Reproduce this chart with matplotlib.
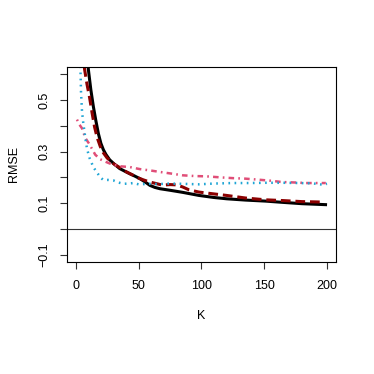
import matplotlib
matplotlib.use("Agg")
import matplotlib.pyplot as plt

plt.rcParams['font.family'] = ['Liberation Sans', 'DejaVu Sans']
plt.rcParams['lines.scale_dashes'] = False

# data
k_black = [8, 9, 10, 12, 14, 16, 18, 20, 22, 24, 27, 31, 35, 39, 43, 47, 51,
           55, 59, 63, 67, 75, 85, 98, 110, 120, 135, 151, 165, 180, 190, 200]
rmse_black = [0.82, 0.71, 0.62, 0.54, 0.475, 0.42, 0.37, 0.332, 0.307,
              0.289, 0.268, 0.25, 0.234, 0.224, 0.214, 0.205, 0.195, 0.183,
              0.169, 0.161, 0.156, 0.15, 0.142, 0.130, 0.122, 0.117, 0.112,
              0.108, 0.103, 0.098, 0.096, 0.094]

k_red = [5, 6, 7, 9, 11, 13, 15, 17, 19.5, 22, 25, 30, 35, 40, 45, 48, 54,
         59, 64, 69, 75, 80, 85, 90, 98, 108, 120, 135, 151, 165, 180, 190,
         198]
rmse_red = [0.74, 0.68, 0.62, 0.56, 0.51, 0.45, 0.395, 0.355, 0.32, 0.295,
            0.275, 0.253, 0.238, 0.222, 0.21, 0.201, 0.19, 0.182, 0.176,
            0.17, 0.172, 0.171, 0.163, 0.152, 0.143, 0.137, 0.13, 0.12,
            0.113, 0.11, 0.106, 0.105, 0.104]

k_pink = [1, 3, 5, 7.6, 10.3, 13, 15.5, 19.5, 24, 29, 35, 43, 51, 59, 67, 77,
          85, 95, 104, 115, 125, 135, 143, 155, 164, 175, 183, 192, 199]
rmse_pink = [0.424, 0.404, 0.39, 0.353, 0.333, 0.31, 0.288, 0.27, 0.26,
             0.25, 0.243, 0.24, 0.232, 0.227, 0.221, 0.214, 0.208, 0.205,
             0.204, 0.20, 0.197, 0.195, 0.192, 0.187, 0.182, 0.18, 0.178,
             0.178, 0.178]

k_cyan = [3.7, 4.2, 5, 6, 7, 8, 9, 11, 14, 17, 20, 22, 26, 30, 34, 38, 42,
          46, 50, 59, 66, 75, 85, 98, 110, 125, 138, 151, 165, 178, 188, 196,
          200]
rmse_cyan = [0.63, 0.53, 0.455, 0.41, 0.375, 0.34, 0.31, 0.275, 0.24, 0.218,
             0.198, 0.19, 0.19, 0.188, 0.18, 0.175, 0.176, 0.178, 0.173,
             0.175, 0.174, 0.176, 0.175, 0.173, 0.176, 0.178, 0.178, 0.179,
             0.179, 0.178, 0.177, 0.172, 0.175]

x_ticks = [0, 50, 100, 150, 200]
y_ticks = [-0.1, 0.0, 0.1, 0.2, 0.3, 0.4, 0.5, 0.6]
y_labels = ['\u22120.1', '', '0.1', '', '0.3', '', '0.5', '']

fig = plt.figure(figsize=(3.74, 3.74), dpi=100)
ax = fig.add_axes([0.179, 0.2995, 0.719, 0.5215])

ax.axhline(0, color='#333333', lw=0.8)
ax.plot(k_black, rmse_black, color='black', lw=2.2, solid_capstyle='butt')
ax.plot(k_red, rmse_red, color='#8B0000', lw=2.2, dashes=(7, 3.5))
ax.plot(k_pink, rmse_pink, color='#E04E78', lw=1.8, dashes=(1.2, 3, 4, 3))
ax.plot(k_cyan, rmse_cyan, color='#1FA5D5', lw=1.8, dashes=(1.2, 3.2))

ax.set_xlim(-7, 207)
ax.set_ylim(-0.128, 0.628)
ax.set_xticks(x_ticks)
ax.set_yticks(y_ticks)
ax.set_yticklabels(y_labels, rotation=90, va='center')

for s in ax.spines.values():
    s.set_linewidth(0.8)
ax.tick_params(length=4.8, width=0.8, labelsize=9, color='#333333')
ax.tick_params(axis='x', pad=8)
ax.tick_params(axis='y', pad=7)

ax.set_xlabel('K', fontsize=9, va='top')
ax.set_ylabel('RMSE', fontsize=9)
ax.xaxis.set_label_coords(0.5, -0.246)
ax.yaxis.set_label_coords(-0.173, 0.5)

fig.savefig('out.png', dpi=100)
